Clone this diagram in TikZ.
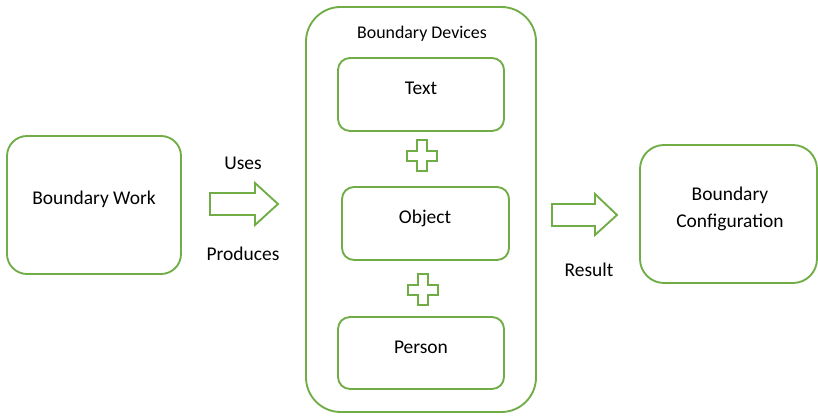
\documentclass[tikz,border=0pt]{standalone}
\usepackage{fontspec}
\setmainfont{Carlito}
\definecolor{grn}{HTML}{70AD47}
\begin{document}
\begin{tikzpicture}[x=0.75pt,y=-0.75pt,
  box/.style={draw=grn,line width=1.4pt,rounded corners=#1,inner sep=0pt},
  box/.default=9pt,
  lbl/.style={anchor=base,font=\fontsize{14.6pt}{17pt}\selectfont,text=black,inner sep=0pt},
  shp/.style={draw=grn,line width=1.4pt,fill=white,line join=miter}]
\useasboundingbox (0,0) rectangle (818,416);
% boxes
\node[box=15pt,minimum width=130.5pt,minimum height=103.5pt] (work) at (94,205) {};
\node[box=26pt,minimum width=172.5pt,minimum height=303.75pt] (dev) at (421,209.5) {};
\node[box=9pt,minimum width=124.5pt,minimum height=54.75pt] (text) at (421,94.5) {};
\node[box=9pt,minimum width=125.25pt,minimum height=54.75pt] (obj) at (425.5,223.5) {};
\node[box=9pt,minimum width=124.5pt,minimum height=54pt] (pers) at (421,353) {};
\node[box=18pt,minimum width=132.75pt,minimum height=103.5pt] (conf) at (728.5,214) {};
% labels
\node[lbl] (tw) at (94,205) {Boundary Work};
\node[lbl,font=\fontsize{13.4pt}{16pt}\selectfont] (td) at (422,39) {Boundary Devices};
\node[lbl] (tt) at (421,95) {Text};
\node[lbl] (to) at (425,224) {Object};
\node[lbl] (tp) at (421,354) {Person};
\node[lbl] (tc1) at (730,201) {Boundary};
\node[lbl] (tc2) at (730,228) {Configuration};
\node[lbl] (tu) at (243,170) {Uses};
\node[lbl] (tpr) at (243,261) {Produces};
\node[lbl] (tr) at (589,277) {Result};
% arrows
\draw[shp] (210,193) -- (255,193) -- (255,183) -- (278,204) -- (255,225) -- (255,215) -- (210,215) -- cycle;
\draw[shp] (552,204) -- (595,204) -- (595,194) -- (617,215) -- (595,235) -- (595,226) -- (552,226) -- cycle;
% plus signs
\draw[shp] (417,140) -- (427,140) -- (427,151) -- (437,151) -- (437,161) -- (427,161) -- (427,171) -- (417,171) -- (417,161) -- (407,161) -- (407,151) -- (417,151) -- cycle;
\draw[shp] (418,274) -- (428,274) -- (428,285) -- (438,285) -- (438,295) -- (428,295) -- (428,305) -- (418,305) -- (418,295) -- (408,295) -- (408,285) -- (418,285) -- cycle;
\end{tikzpicture}
\end{document}
